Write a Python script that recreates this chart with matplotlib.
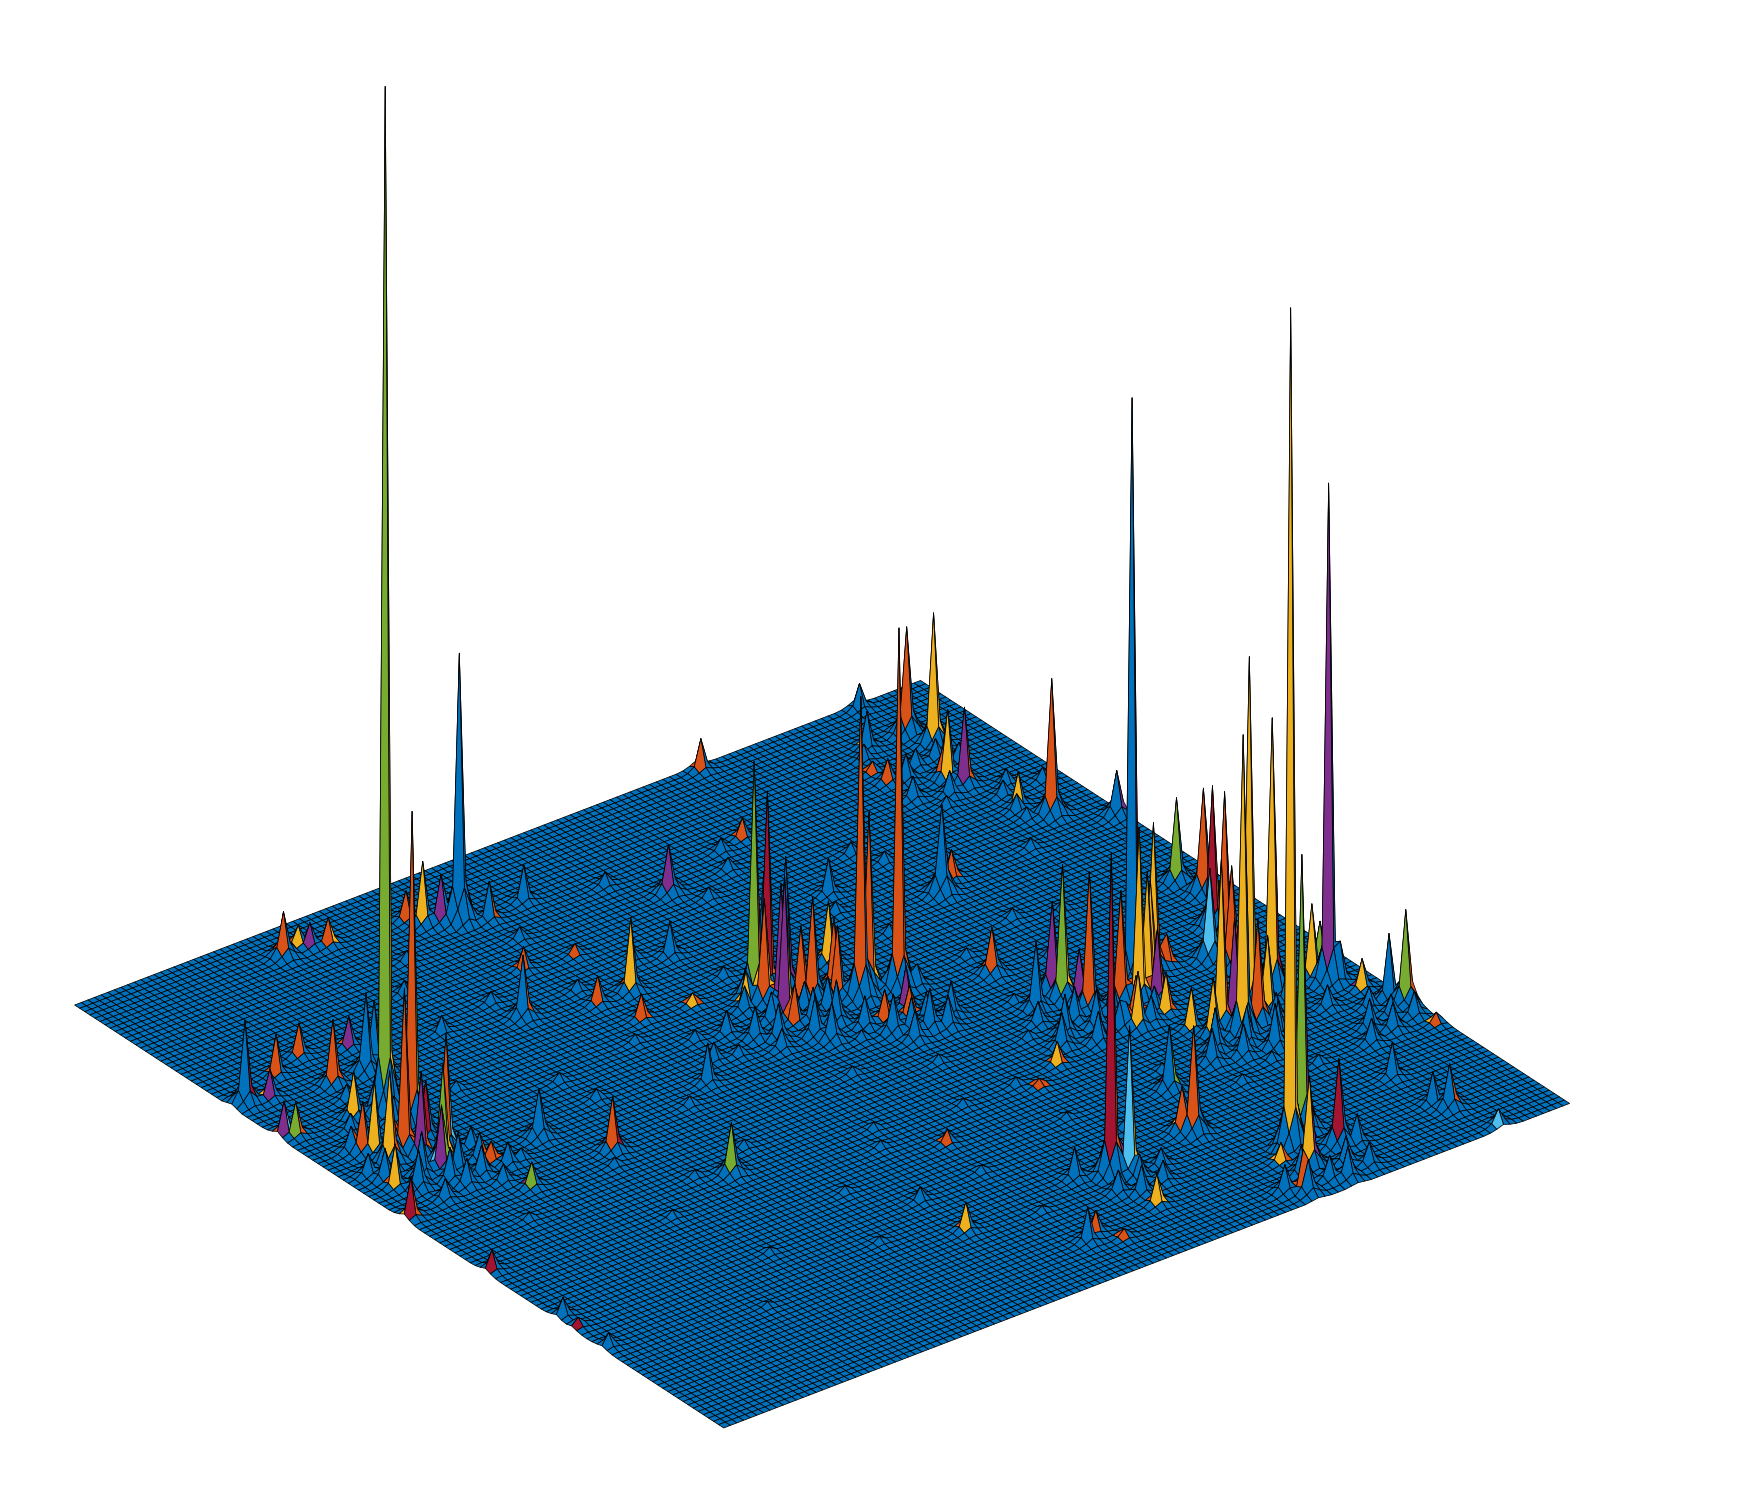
import numpy as np
import matplotlib
matplotlib.use('Agg')
import matplotlib.pyplot as plt
from matplotlib.colors import to_rgba

cells = 128
max_z = 922

# matlab "lines" colours
lines = {'b': '#0072BD', 'o': '#D95319', 'y': '#EDB120', 'p': '#7E2F8E',
         'g': '#77AC30', 'c': '#4DBEEE', 'r': '#A2142F'}

# spikes. faces = colour of left, middle, right facet
peak_col = [14, 15, 10, 11, 49, 45, 44, 47, 52, 58, 27, 31, 33, 30, 2, 9, 5, 1, 2, 14,
            13, 20, 18, 20, 10, 14, 12, 11, 14, 7, 7, 6, 4, 1, 17, 17, 25, 30, 38, 41,
            48, 55, 73, 94, 118, 81, 119, 120, 117, 116, 76, 78, 113, 66, 68, 70, 66, 69, 71, 78,
            74, 75, 88, 99, 102, 92, 66, 66, 75, 79, 78, 110, 110, 121, 119,
            104, 95, 123, 111, 116, 107, 123, 124, 120, 118, 99, 74, 76, 88, 92, 87, 70, 74, 100, 127,
            126, 125, 124, 124, 116, 115, 115, 118, 127, 95, 95, 91, 96, 96, 85, 80,
            108, 102, 104, 110, 104, 100, 115, 108, 116, 110, 113, 118, 103, 104, 122, 94, 90, 92, 102,
            63, 52, 1, 1, 1, 1, 64, 66, 62, 52, 49, 52, 50, 59, 55, 88, 58, 64, 31, 53, 127,
            67, 70, 64, 106, 100, 106, 98, 103]
peak_row = [85, 81, 76, 74, 116, 118, 120, 117, 114, 115, 122, 122, 121, 123, 97, 100, 96, 88, 87, 102,
            94, 100, 94, 95, 86, 73, 71, 70, 77, 75, 78, 79, 70, 63, 68, 60, 69, 61, 48, 93,
            102, 90, 106, 127, 127, 71, 119, 115, 105, 107, 72, 73, 119, 80, 80, 79, 74, 82, 75, 81,
            74, 76, 94, 86, 88, 67, 78, 72, 66, 67, 65, 111, 114, 93, 97,
            55, 12, 41, 41, 43, 37, 71, 67, 60, 55, 15, 20, 19, 22, 32, 23, 22, 11, 9, 31,
            33, 37, 40, 44, 8, 10, 18, 1, 25, 57, 59, 57, 53, 55, 45, 42,
            56, 51, 50, 56, 52, 49, 54, 40, 51, 38, 40, 46, 42, 39, 43, 7, 3, 10, 8,
            38, 20, 47, 33, 30, 24, 10, 7, 9, 29, 67, 84, 90, 83, 101, 111, 75, 94, 96, 71, 88,
            76, 76, 79, 40, 52, 54, 46, 47]
peak_height = [917, 278, 146, 75, 239, 56, 26, 43, 34, 32, 40, 21, 24, 18, 73, 36, 26, 30, 30, 29,
               58, 27, 70, 56, 42, 105, 88, 57, 51, 82, 64, 45, 38, 36, 17, 22, 43, 48, 45, 55,
               20, 65, 43, 28, 23, 322, 95, 117, 69, 63, 269, 158, 33, 210, 179, 119, 125, 99, 92, 55,
               63, 61, 32, 79, 26, 41, 93, 35, 27, 36, 27, 21, 10, 121, 30,
               523, 751, 445, 317, 245, 268, 75, 93, 125, 139, 244, 287, 131, 95, 57, 40, 27, 27, 77, 84,
               59, 27, 36, 42, 39, 28, 31, 15, 10, 120, 81, 60, 123, 48, 20, 7,
               131, 155, 63, 27, 108, 33, 80, 93, 89, 93, 66, 69, 36, 51, 65, 81, 36, 17, 26,
               12, 25, 18, 17, 8, 12, 20, 8, 30, 12, 35, 22, 25, 10, 10, 18, 20, 30, 15, 15, 40,
               110, 65, 30, 150, 100, 90, 50, 35]
peak_foot = [40, 25, 14, 10, 25, 8, 4, 8, 4, 4, 8, 4, 4, 4, 10, 4, 4, 4, 4, 4,
             8, 4, 10, 8, 8, 14, 14, 8, 8, 14, 8, 8, 4, 4, 3, 4, 8, 8, 8, 8,
             3, 8, 8, 4, 4, 25, 14, 14, 8, 8, 25, 14, 4, 25, 14, 14, 14, 14, 14, 8,
             8, 8, 4, 14, 4, 8, 14, 4, 4, 4, 4, 4, 2, 14, 4,
             25, 30, 25, 25, 25, 25, 10, 14, 14, 14, 25, 25, 14, 14, 8, 8, 4, 4, 14, 14,
             8, 4, 4, 8, 8, 4, 4, 3, 2, 14, 14, 8, 14, 8, 3, 2,
             14, 14, 8, 4, 14, 4, 14, 14, 14, 14, 8, 8, 4, 8, 8, 14, 4, 3, 4,
             2, 4, 3, 3, 2, 2, 3, 2, 4, 2, 4, 3, 4, 2, 2, 3, 3, 4, 2, 2, 8,
             14, 8, 4, 14, 14, 14, 8, 4]
peak_faces = ['pgy', 'cog', 'ooo', 'opo', 'obb', 'byb', 'bob', 'bpb', 'bbo', 'bbb', 'oob', 'ypb', 'boy', 'oyb', 'bbr', 'oob', 'ypb', 'opo', 'cgo', 'bob',
              'boo', 'opb', 'bbb', 'bbo', 'byb', 'yoc', 'bgy', 'cpg', 'brb', 'oyo', 'byb', 'oob', 'oyb', 'yro', 'ooo', 'pgb', 'bbb', 'bor', 'bgb', 'bbo',
              'oob', 'oyb', 'bpb', 'oob', 'bbb', 'yoo', 'bob', 'oyy', 'bpo', 'oyb', 'bob', 'goy', 'ybb', 'ygo', 'bro', 'cbp', 'opy', 'bbb', 'oob', 'yyb',
              'pob', 'ooo', 'bbb', 'bbb', 'boo', 'oob', 'yoy', 'oob', 'ooo', 'bpb', 'ooo', 'bob', 'oob', 'oob', 'byb',
              'pbr', 'pyy', 'cpb', 'byy', 'byr', 'cyb', 'bgb', 'yob', 'oro', 'ror', 'pgp', 'oro', 'pcy', 'oob', 'pbg', 'yob', 'bbb', 'oyy', 'brb', 'bgo',
              'bbb', 'pyb', 'bbb', 'ogb', 'bbo', 'bbb', 'bbb', 'bcb', 'yob', 'pgy', 'ypb', 'bbb', 'oob', 'bpo', 'oyo', 'ooo',
              'byo', 'oyy', 'opo', 'ooo', 'yyo', 'ooo', 'ycb', 'bpb', 'ooo', 'boo', 'gyb', 'yob', 'byb', 'byb', 'byb', 'yyp', 'ooo', 'yyo', 'bbb',
              'oob', 'oyb', 'brb', 'bbb', 'brb', 'bbb', 'bob', 'oob', 'bbb', 'bbb', 'bbb', 'boo', 'bob', 'oyo', 'bob', 'oob', 'bbb', 'bbb', 'bbb', 'bbb', 'bbp',
              'opo', 'yoo', 'yyb', 'oyo', 'ooo', 'oyo', 'oyb', 'byo']

# low blue bumps scattered over the floor
bump_col = [20, 24, 28, 33, 36, 40, 44, 48, 52, 56, 60, 64, 68, 72, 76, 80, 84, 88, 92, 96,
            100, 104, 108, 112, 26, 35, 43, 50, 58, 66, 74, 82, 90, 98, 106, 114, 30, 38, 46, 54,
            62, 70, 78, 86, 94, 102, 110, 118, 22, 42, 62, 82, 102, 12, 34, 56, 78, 100, 70, 86,
            # foot of the spike groups, left
            4, 6, 8, 10, 12, 14, 16, 18, 5, 9, 13, 17, 3, 7, 11, 15, 8, 12, 16, 20,
            # centre
            60, 62, 64, 66, 68, 70, 72, 74, 76, 78, 80, 82, 63, 67, 71, 75, 79, 83, 61, 69,
            # right
            88, 90, 92, 94, 96, 98, 100, 102, 100, 102, 104, 106, 108, 110, 112, 114, 116, 89, 93, 97,
            88, 90, 92, 94, 96, 98, 100, 72, 74, 76, 78, 80, 118, 120, 122, 124, 126, 119, 123, 127,
            110, 112, 114, 116, 118, 120, 111, 115, 119, 125, 118, 121]
bump_row = [66, 84, 58, 106, 72, 98, 64, 80, 108, 70, 96, 58, 112, 88, 102, 62, 110, 82, 72, 100,
            66, 92, 74, 102, 44, 78, 52, 94, 46, 86, 54, 106, 60, 96, 30, 88, 30, 112, 36, 76,
            30, 64, 44, 90, 36, 76, 26, 94, 20, 24, 18, 28, 20, 54, 50, 42, 34, 28, 44, 52,
            72, 68, 70, 67, 68, 66, 69, 66, 80, 77, 82, 72, 74, 64, 65, 63, 84, 90, 88, 92,
            72, 70, 74, 68, 71, 69, 66, 63, 62, 61, 60, 62, 78, 66, 72, 60, 63, 70, 68, 74,
            48, 50, 46, 49, 47, 51, 46, 48, 34, 36, 33, 35, 32, 34, 37, 36, 40, 54, 52, 47,
            4, 2, 6, 3, 2, 5, 3, 16, 14, 17, 15, 18, 26, 29, 27, 30, 28, 36, 33, 29,
            106, 110, 104, 108, 112, 110, 117, 112, 100, 100, 96, 102]
bump_height = [10, 8, 7, 12, 9, 10, 8, 7, 11, 9, 10, 7, 12, 9, 10, 8, 12, 9, 8, 11,
               9, 10, 8, 10, 6, 8, 7, 10, 6, 9, 7, 11, 7, 10, 8, 9, 5, 10, 6, 9,
               6, 8, 7, 10, 7, 9, 8, 10, 4, 5, 5, 6, 6, 6, 6, 6, 5, 7, 6, 7,
               28, 34, 40, 30, 36, 26, 24, 20, 22, 30, 25, 18, 20, 18, 24, 16, 15, 14, 16, 14,
               28, 32, 26, 35, 30, 38, 28, 34, 30, 36, 28, 30, 22, 34, 30, 26, 24, 20, 18, 24,
               30, 36, 28, 34, 26, 30, 24, 22, 30, 38, 28, 34, 40, 32, 26, 24, 28, 20, 30, 22,
               24, 30, 26, 22, 28, 24, 20, 20, 26, 22, 18, 16, 22, 26, 24, 18, 22, 20, 18, 14,
               20, 24, 22, 26, 18, 16, 14, 16, 14, 12, 16, 14]

# how far a spike's foot reaches out, relative to peak_foot
skirt = [[0.00, 0.15, 0.30, 0.15, 0.00],
         [0.15, 0.60, 1.30, 0.60, 0.15],
         [0.30, 1.30, 0.00, 1.30, 0.30],
         [0.15, 0.60, 1.30, 0.60, 0.15],
         [0.00, 0.15, 0.30, 0.15, 0.00]]


def stamp(Z, r, c, foot):
    for i in range(5):
        for j in range(5):
            rr, cc = r + i - 2, c + j - 2
            if 0 <= rr <= cells and 0 <= cc <= cells:
                Z[rr, cc] = max(Z[rr, cc], foot * skirt[i][j])


Z = np.zeros((cells + 1, cells + 1))
for c, r, h in zip(bump_col, bump_row, bump_height):
    stamp(Z, r, c, h * 0.2)
for c, r, h in zip(bump_col, bump_row, bump_height):
    Z[r, c] = max(Z[r, c], h)
for c, r, f in zip(peak_col, peak_row, peak_foot):
    stamp(Z, r, c, f)
for c, r, h in zip(peak_col, peak_row, peak_height):
    Z[r, c] = max(Z[r, c], h)

colors = np.empty((cells, cells, 4))
colors[:, :] = to_rgba(lines['b'])
for c, r, faces in zip(peak_col, peak_row, peak_faces):
    left, mid, right = faces
    if c >= 1 and r < cells:
        colors[r, c - 1] = to_rgba(lines[left])
    if c >= 1 and r >= 1:
        colors[r - 1, c - 1] = to_rgba(lines[mid])
    if r >= 1 and c < cells:
        colors[r - 1, c] = to_rgba(lines[right])

X, Y = np.meshgrid(np.arange(cells + 1), np.arange(cells + 1))

fig = plt.figure(figsize=(17.5, 14.96), dpi=100)
ax = fig.add_axes([53.9 / 1750, 188.9 / 1496, 1496 / 1750, 1], projection='3d', proj_type='ortho')
ax.view_init(elev=30, azim=-127.5)
surf = ax.plot_surface(X, Y, Z, facecolors=colors, rstride=1, cstride=1,
                       edgecolor='k', linewidth=0.55, shade=False, antialiased=True)
surf.set_zsort('max')
surf.set_clip_on(False)
ax.set_xlim(0, cells, view_margin=0)
ax.set_ylim(0, cells, view_margin=0)
ax.set_zlim(0, max_z, view_margin=0)
ax.set_box_aspect((1, 1, max_z / 826), zoom=1.2465)
ax.set_axis_off()
plt.savefig('out.png', dpi=100)
